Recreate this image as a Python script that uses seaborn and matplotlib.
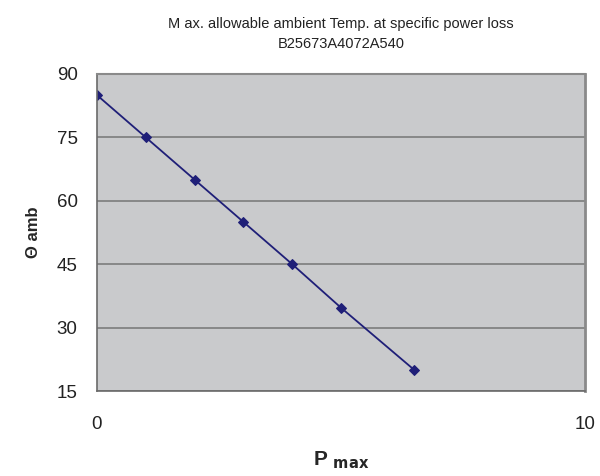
import matplotlib
matplotlib.use("Agg")
import matplotlib.pyplot as plt
import seaborn as sns
import pandas as pd

# Data
p_max = [0, 1, 2, 3, 4, 5, 6.5]
theta_amb = [85, 75, 65, 55, 45, 34.7, 20]
y_ticks = [15, 30, 45, 60, 75, 90]
x_ticks = [0, 10]

df = pd.DataFrame({"P": p_max, "T": theta_amb})

sns.set_style("white")
plt.rcParams['font.family'] = ['Liberation Sans', 'DejaVu Sans']

fig = plt.figure(figsize=(6, 4.76), dpi=100)
ax = fig.add_axes([97 / 600, 1 - 391 / 476, 488 / 600, 317 / 476])
ax.set_facecolor("#C9CACC")

sns.lineplot(data=df, x="P", y="T", ax=ax, color="#1F1F78", lw=1.3,
             marker="D", markersize=5, markeredgecolor="#1F1F78")

ax.set_xlim(0, 10)
ax.set_ylim(15, 90)
ax.set_xticks(x_ticks)
ax.set_yticks(y_ticks)
ax.yaxis.grid(True, color="#7C7C7C", lw=1.2)
ax.set_axisbelow(True)

for s in ["left", "bottom"]:
    ax.spines[s].set_color("#6A6A6A")
    ax.spines[s].set_linewidth(1.2)
ax.spines["top"].set_color("#8A8A8A")
ax.spines["top"].set_linewidth(1.5)
ax.spines["right"].set_color("#8A8A8A")
ax.spines["right"].set_linewidth(2)

ax.tick_params(axis="both", direction="out", length=6, width=1.2,
               color="#6A6A6A", labelsize=13.5)
ax.tick_params(axis="y", pad=8)
ax.tick_params(axis="x", pad=12)
for t in ax.get_xticklabels() + ax.get_yticklabels():
    t.set_color("#222222")

ax.set_xlabel(r"P $_{\mathbf{max}}$", fontsize=15, fontweight="bold", labelpad=12)
ax.set_ylabel("Θ amb", fontsize=12, fontweight="bold", labelpad=11)
ax.set_title("M ax. allowable ambient Temp. at specific power loss\nB25673A4072A540",
             fontsize=10.5, color="#222222", pad=19, linespacing=1.55)

fig.savefig("out.png", dpi=100)
